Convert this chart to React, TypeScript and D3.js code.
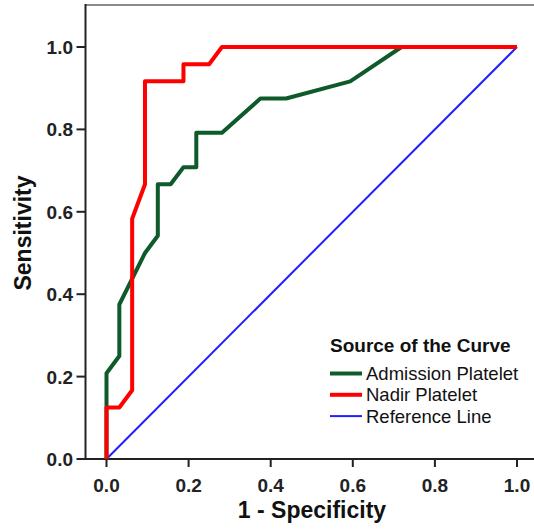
import * as d3 from "d3";
import React from "react";

// ROC coordinates (1 - specificity, sensitivity)
const admissionFpr = [0, 0, 0, 0.03125, 0.03125, 0.09375, 0.125, 0.125, 0.15625, 0.1875, 0.21875, 0.21875, 0.28125, 0.375, 0.4375, 0.59375, 0.71875, 1];
const admissionTpr = [0, 0.125, 0.2083, 0.25, 0.375, 0.5, 0.5417, 0.6667, 0.6667, 0.7083, 0.7083, 0.7917, 0.7917, 0.875, 0.875, 0.9167, 1, 1];

const nadirFpr = [0, 0, 0.03125, 0.0625, 0.0625, 0.09375, 0.09375, 0.1875, 0.1875, 0.25, 0.28125, 1];
const nadirTpr = [0, 0.125, 0.125, 0.1667, 0.5833, 0.6667, 0.9167, 0.9167, 0.9583, 0.9583, 1, 1];

const refFpr = [0, 1];
const refTpr = [0, 1];

const ticks = [0, 0.2, 0.4, 0.6, 0.8, 1.0];

const seriesNames = ["Admission Platelet", "Nadir Platelet", "Reference Line"];
const seriesColors = ["#0f5a2a", "#ff0000", "#1f1fff"];
const seriesWidths = [4, 4, 2];

const W = 534;
const H = 529;
const FONT = "'Liberation Sans', Arial, sans-serif";

export default function App() {
  const x = d3.scaleLinear().domain([0, 1]).range([106.5, 517]);
  const y = d3.scaleLinear().domain([0, 1]).range([459, 47]);

  const line = d3.line<[number, number]>()
    .x(d => x(d[0]))
    .y(d => y(d[1]));

  const series = [
    d3.zip(admissionFpr, admissionTpr) as [number, number][],
    d3.zip(nadirFpr, nadirTpr) as [number, number][],
    d3.zip(refFpr, refTpr) as [number, number][],
  ];

  const axisLeft = 85.5;
  const axisBottom = 459;
  const frameTop = 5;

  return (
    <svg width={W} height={H} style={{ position: "absolute", left: 0, top: 0, background: "#fff" }} fontFamily={FONT}>
      <rect width={W} height={H} fill="#fff" />

      {/* frame */}
      <line x1={axisLeft} x2={W} y1={frameTop} y2={frameTop} stroke="#8a8a8a" strokeWidth={2} />
      <line x1={axisLeft} x2={axisLeft} y1={frameTop - 1} y2={axisBottom + 1} stroke="#222" strokeWidth={2} />
      <line x1={axisLeft} x2={W} y1={axisBottom} y2={axisBottom} stroke="#222" strokeWidth={2} />

      {/* curves: reference first so the others sit on top */}
      {[2, 0, 1].map(i => (
        <path key={i} d={line(series[i]) || ""} fill="none" stroke={seriesColors[i]}
          strokeWidth={seriesWidths[i]} strokeLinejoin="round" />
      ))}

      {/* x axis ticks */}
      {ticks.map(t => (
        <g key={"x" + t}>
          <line x1={x(t)} x2={x(t)} y1={axisBottom} y2={axisBottom + 8} stroke="#222" strokeWidth={2} />
          <text x={x(t)} y={492} textAnchor="middle" fontSize={19} fontWeight="bold" fill="#222">
            {t.toFixed(1)}
          </text>
        </g>
      ))}

      {/* y axis ticks */}
      {ticks.map(t => (
        <g key={"y" + t}>
          <line x1={axisLeft - 9} x2={axisLeft} y1={y(t)} y2={y(t)} stroke="#222" strokeWidth={2} />
          <text x={73} y={y(t) + 7} textAnchor="end" fontSize={19} fontWeight="bold" fill="#222">
            {t.toFixed(1)}
          </text>
        </g>
      ))}

      {/* axis titles */}
      <text x={312} y={518} textAnchor="middle" fontSize={23} fontWeight="bold" fill="#111">1 - Specificity</text>
      <text transform="translate(31,233) rotate(-90)" textAnchor="middle" fontSize={23} fontWeight="bold" fill="#111">Sensitivity</text>

      {/* legend */}
      <text x={330} y={352} fontSize={19} fontWeight="bold" fill="#111">Source of the Curve</text>
      {seriesNames.map((name, i) => {
        const ly = 373.5 + i * 21.3;
        return (
          <g key={name}>
            <line x1={330} x2={362} y1={ly} y2={ly} stroke={seriesColors[i]} strokeWidth={seriesWidths[i]} />
            <text x={366} y={ly + 6.5} fontSize={18.5} fill="#111">{name}</text>
          </g>
        );
      })}
    </svg>
  );
}
